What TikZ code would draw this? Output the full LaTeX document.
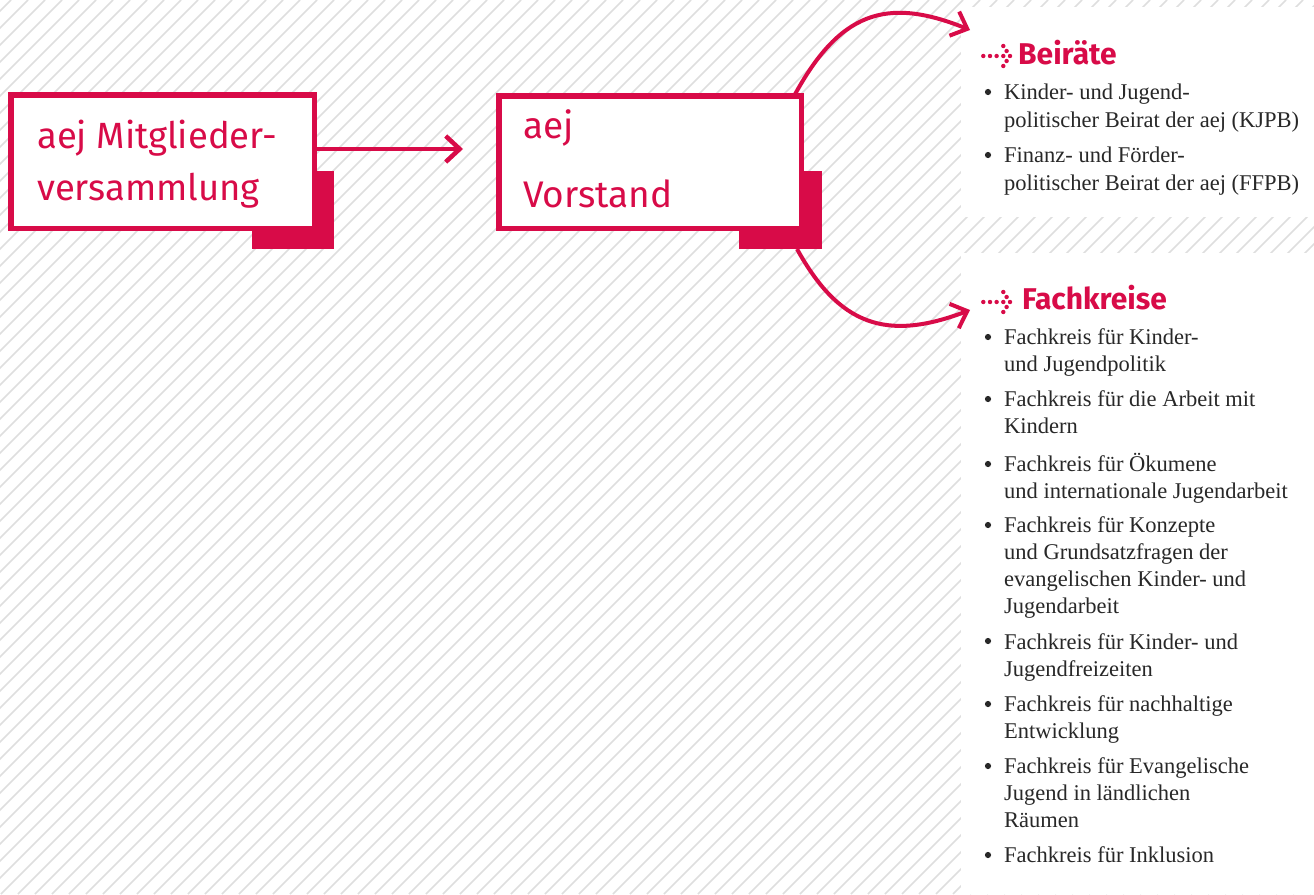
\documentclass[tikz,border=0pt]{standalone}
\usepackage{fontspec}
\setmainfont{Liberation Serif}
\newfontfamily\fira{Fira Sans}
\usetikzlibrary{arrows.meta}
\definecolor{aejred}{RGB}{216,11,72}
\definecolor{hatchgray}{RGB}{222,222,222}
\definecolor{bodygray}{RGB}{40,40,40}
\begin{document}
\begin{tikzpicture}[x=1pt,y=-1pt,
  boxframe/.style={draw=aejred, line width=5.5pt, fill=white, inner sep=0pt},
  shadowblock/.style={fill=aejred, inner sep=0pt, outer sep=0pt},
  boxtext/.style={text=aejred, anchor=base west, inner sep=0pt, align=left},
  conn/.style={draw=aejred, line width=4.5pt, -{Straight Barb[length=14pt,width=26pt]}},
  curveconn/.style={draw=aejred, line width=4pt, -{Straight Barb[length=14pt,width=26pt]}},
  heading/.style={font=\fira\bfseries\fontsize{30}{36}\selectfont, text=aejred, anchor=base west, inner sep=0pt},
  itemtext/.style={font=\fontsize{22.5}{27}\selectfont, text=bodygray, anchor=base west, inner sep=0pt, align=left},
  bulletdot/.style={fill=bodygray},
  icondot/.style={fill=aejred},
]
\useasboundingbox (0,0) rectangle (1314,894);
% hatched background
\begin{scope}
\clip (0,0) rectangle (1314,894);
\foreach \k in {-900,-883,...,1320} \draw[hatchgray, line width=1.5pt] (\k,894) -- ++(894,-894);
\end{scope}
% white panels
\fill[white] (961,7) rectangle (1314,217);
\fill[white] (961,253) rectangle (1314,894);

% box 1
\node[shadowblock, minimum width=82pt, minimum height=78pt] (s1) at (293,210) {};
\node[boxframe, minimum width=303.5pt, minimum height=133.5pt] (box1) at (162.5,161.5) {};
\node[boxtext, font=\fira\fontsize{36.5}{52}\selectfont] (t1) at (37,200) {aej Mitglieder-\\versammlung};

% box 2
\node[shadowblock, minimum width=83pt, minimum height=78pt] (s2) at (780.5,210) {};
\node[boxframe, minimum width=302.5pt, minimum height=132.5pt] (box2) at (650,162) {};
\node[boxtext, font=\fira\fontsize{37}{69}\selectfont] (t2) at (523,207) {aej\\Vorstand};

% connectors
\coordinate (vend) at (463,149);
\draw[conn] (box1.east |- vend) -- (vend);
\coordinate (bstart) at ([xshift=-11pt,yshift=-5pt]box2.north east);
\coordinate (bend) at (970,30);
\draw[curveconn] (bstart) .. controls (839,12) and (886,-4) .. (bend);
\coordinate (fstart) at ([xshift=-25pt]s2.south east);
\coordinate (fend) at (970,310);
\draw[curveconn] (fstart) .. controls (839,325) and (886,342) .. (fend);

% Beiraete panel
\node[heading] (hb) at (1018,64) {Beiräte};
\begin{scope}[shift={(983.3,56)}]
\foreach \p in {(0,0),(6.7,0),(13.3,0),(20,0),(26.7,0),(20,-10),(23.3,-5),(23.3,5),(20,10)}
  \fill[icondot] \p circle (2.2);
\end{scope}
\node[itemtext, font=\fontsize{22.5}{28}\selectfont] (b1) at (1004,127) {Kinder- und Jugend-\\politischer Beirat der aej (KJPB)};
\node[itemtext, font=\fontsize{22.5}{28}\selectfont] (b2) at (1004,190) {Finanz- und Förder-\\politischer Beirat der aej (FFPB)};
\foreach \y in {99,162} \fill[bulletdot] (988,\y-7) circle (3.1);

% Fachkreise panel
\node[heading] (hf) at (1022,309) {Fachkreise};
\begin{scope}[shift={(983.3,302)}]
\foreach \p in {(0,0),(6.7,0),(13.3,0),(20,0),(26.7,0),(20,-10),(23.3,-5),(23.3,5),(20,10)}
  \fill[icondot] \p circle (2.2);
\end{scope}
\node[itemtext] (f1) at (1004,371) {Fachkreis für Kinder-\\und Jugendpolitik};
\node[itemtext] (f2) at (1004,433) {Fachkreis für die Arbeit mit\\Kindern};
\node[itemtext] (f3) at (1004,498) {Fachkreis für Ökumene\\und internationale Jugendarbeit};
\node[itemtext] (f4) at (1004,613) {Fachkreis für Konzepte\\und Grundsatzfragen der\\evangelischen Kinder- und\\Jugendarbeit};
\node[itemtext] (f5) at (1004,676) {Fachkreis für Kinder- und\\Jugendfreizeiten};
\node[itemtext] (f6) at (1004,738) {Fachkreis für nachhaltige\\Entwicklung};
\node[itemtext] (f7) at (1004,827) {Fachkreis für Evangelische\\Jugend in ländlichen\\Räumen};
\node[itemtext] (f8) at (1004,862) {Fachkreis für Inklusion};
\foreach \y in {344,406,471,532,648,711,773,862} \fill[bulletdot] (988,\y-7) circle (3.1);
\end{tikzpicture}
\end{document}
